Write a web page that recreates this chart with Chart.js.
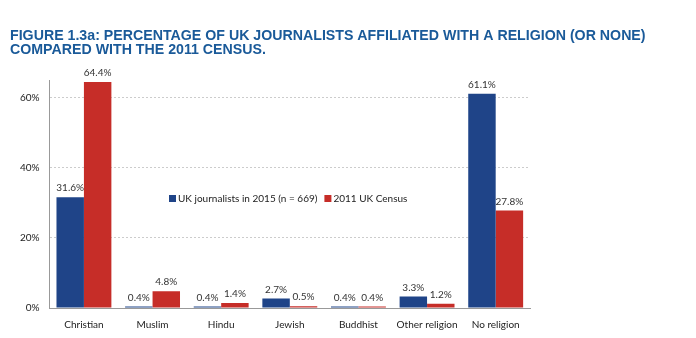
<!DOCTYPE html>
<html>
<head>
<meta charset="utf-8">
<script src="https://cdn.jsdelivr.net/npm/chart.js@4"></script>
<style>
  html, body { margin: 0; padding: 0; background: #fff; }
  #wrap { width: 696px; height: 338px; position: relative; }
</style>
</head>
<body>
<div id="wrap"><canvas id="myChart" width="696" height="338"></canvas></div>
<script>
const ctx = document.getElementById('myChart').getContext('2d');

// data
const labels = ['Christian', 'Muslim', 'Hindu', 'Jewish', 'Buddhist', 'Other religion', 'No religion'];
const journalists = [31.6, 0.4, 0.4, 2.7, 0.4, 3.3, 61.1];
const census = [64.4, 4.8, 1.4, 0.5, 0.4, 1.2, 27.8];
const seriesNames = ['UK journalists in 2015 (n = 669)', '2011 UK Census'];
const yTicks = [0, 20, 40, 60];
const titleLines = ['FIGURE 1.3a: PERCENTAGE OF UK JOURNALISTS AFFILIATED WITH A RELIGION (OR NONE)',
                    'COMPARED WITH THE 2011 CENSUS.'];

const blue = '#1f4488';
const red = '#c62d28';
const font = 'Lato, "Open Sans", sans-serif';

// title drawn by hand so it can run past the plot width
const wideTitle = {
    id: 'wideTitle',
    afterDraw(chart) {
        const c = chart.ctx;
        c.save();
        c.font = 'bold 14.2px "Liberation Sans", Arial, sans-serif';
        c.fillStyle = '#1a5a99';
        c.textBaseline = 'alphabetic';
        titleLines.forEach((t, i) => c.fillText(t, 10, 40 + i * 13.5));
        c.restore();
    }
};

// value labels above bars
const valueLabels = {
    id: 'valueLabels',
    afterDatasetsDraw(chart) {
        const c = chart.ctx;
        c.save();
        c.font = '10px ' + font;
        c.fillStyle = '#333';
        c.textAlign = 'center';
        c.textBaseline = 'bottom';
        chart.data.datasets.forEach((ds, i) => {
            chart.getDatasetMeta(i).data.forEach((bar, j) => {
                c.fillText(ds.data[j].toFixed(1) + '%', bar.x, bar.y - 4);
            });
        });
        c.restore();
    }
};

// legend sitting inside the plot
const innerLegend = {
    id: 'innerLegend',
    afterDraw(chart) {
        const c = chart.ctx;
        c.save();
        c.font = '10px ' + font;
        c.textBaseline = 'middle';
        let x = 169, y = 199;
        chart.data.datasets.forEach((ds) => {
            c.fillStyle = ds.backgroundColor;
            c.fillRect(x, y - 4, 7, 7);
            c.fillStyle = '#222';
            c.fillText(ds.label, x + 9, y);
            x += 9 + c.measureText(ds.label).width + 7;
        });
        c.restore();
    }
};

const data = {
    labels,
    datasets: [
        {
            label: seriesNames[0],
            data: journalists,
            backgroundColor: blue,
            borderWidth: 0,
        },
        {
            label: seriesNames[1],
            data: census,
            backgroundColor: red,
            borderWidth: 0,
        },
    ],
};

const config = {
    type: 'bar',
    data: data,
    options: {
        responsive: false,
        animation: false,
        categoryPercentage: 0.8,
        barPercentage: 1.0,
        layout: { padding: { left: 10, right: 166, top: 80, bottom: 4 } },
        plugins: {
            legend: { display: false },
            tooltip: { enabled: false },
            title: { display: false },
        },
        scales: {
            x: {
                grid: { display: false },
                border: { color: '#999' },
                ticks: { color: '#222', font: { family: font, size: 10 }, padding: 3 },
            },
            y: {
                min: 0,
                max: 65,
                afterBuildTicks: (axis) => {
                    axis.ticks = yTicks.map(v => ({ value: v }));
                },
                grid: { color: '#ccc', drawTicks: false },
                border: { color: '#999', dash: [2, 2] },
                ticks: {
                    color: '#222',
                    font: { family: font, size: 10 },
                    padding: 10,
                    callback: function(value) {
                        return value + '%';
                    },
                },
            },
        },
    },
    plugins: [wideTitle, valueLabels, innerLegend],
};

const myChart = new Chart(ctx, config);
</script>
</body>
</html>
